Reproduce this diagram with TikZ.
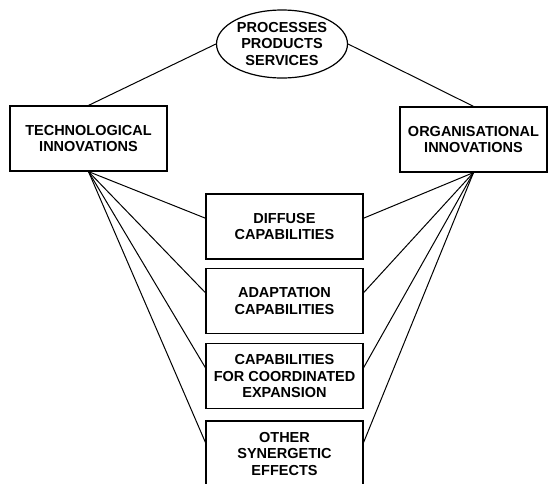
\documentclass[tikz,border=0pt]{standalone}
\usepackage{fontspec}
\setmainfont{Liberation Sans}
\usetikzlibrary{shapes.geometric}
\begin{document}
\begin{tikzpicture}[x=1pt,y=-1pt]
            \tikzstyle{boite}=[draw,line width=1.2pt,minimum width=157pt,minimum height=65pt,inner sep=0pt,align=center,font=\bfseries\fontsize{14.5}{16.5}\selectfont]
            \tikzstyle{lien}=[line width=1pt]
            \useasboundingbox (0,0) rectangle (548,483);
            \node[ellipse,boite,minimum width=131pt,minimum height=68pt] (ps) at (282,44) {PROCESSES\\PRODUCTS\\SERVICES};
            \node[boite] (tech) at (88.5,138.5) {TECHNOLOGICAL\\INNOVATIONS};
            \node[boite,minimum width=147pt] (org) at (473.5,139.5) {ORGANISATIONAL\\INNOVATIONS};
            \node[boite] (dif) at (284.5,226.5) {DIFFUSE\\CAPABILITIES};
            \node[boite] (ada) at (284.5,301) {ADAPTATION\\CAPABILITIES};
            \node[boite] (coo) at (284.5,376) {CAPABILITIES\\FOR COORDINATED\\EXPANSION};
            \node[boite] (oth) at (284.5,453.5) {OTHER\\SYNERGETIC\\EFFECTS};
            \draw[lien] (ps.west) -- (tech.north);
            \draw[lien] (ps.east) -- (org.north);
            \draw[lien] (tech.south) -- (dif.174);
            \draw[lien] (tech.south) -- (ada.174);
            \draw[lien] (tech.south) -- (coo.174);
            \draw[lien] (tech.south) -- (oth.172);
            \draw[lien] (org.south) -- (dif.6);
            \draw[lien] (org.south) -- (ada.6);
            \draw[lien] (org.south) -- (coo.6);
            \draw[lien] (org.south) -- (oth.8);
        \end{tikzpicture}
\end{document}
